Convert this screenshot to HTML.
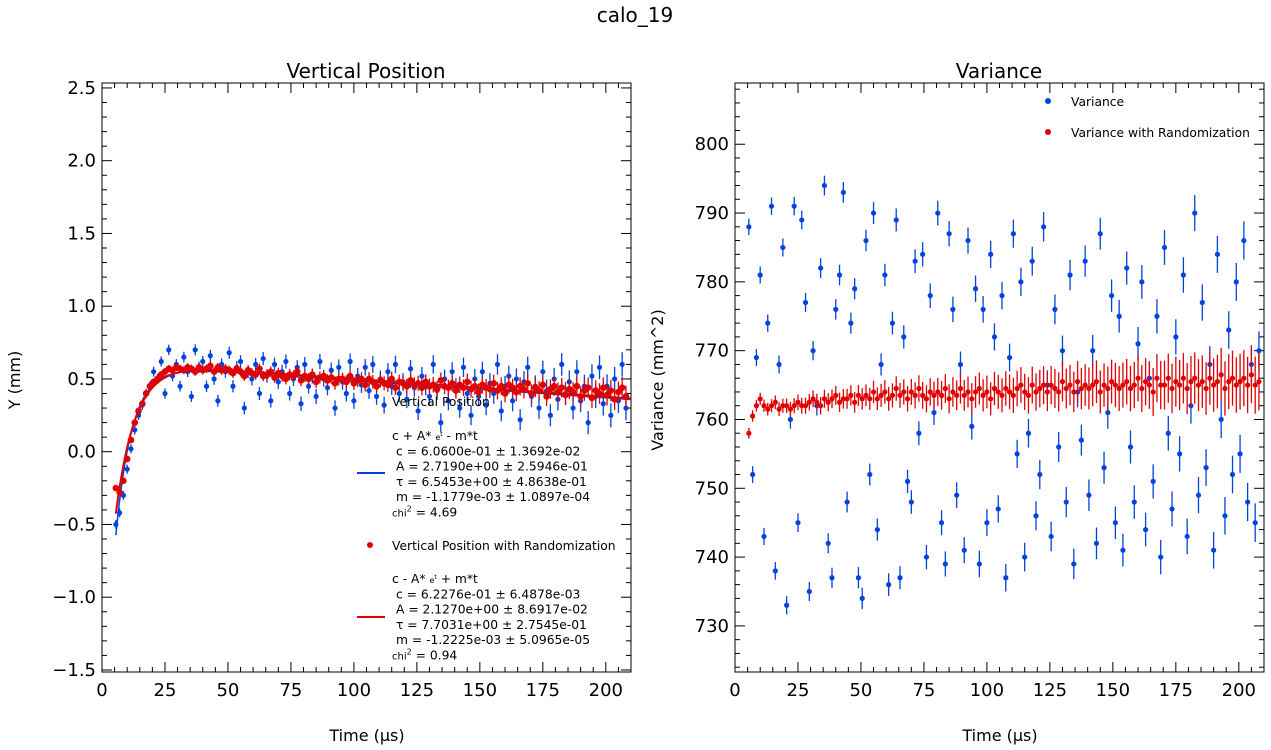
<!DOCTYPE html>
<html><head><meta charset="utf-8"><style>
body{margin:0;background:#fff;}
svg{display:block;font-family:"DejaVu Sans","Liberation Sans",sans-serif;}
</style></head><body>
<svg id="chart" width="1271" height="750" viewBox="0 0 1271 750">
<text x="635" y="22" font-size="20" text-anchor="middle">calo_19</text>
<g id="left"></g>
<g id="right"></g>
</svg>
<script>
const lbY=[-0.5,-0.42,-0.3,-0.12,0.02,0.15,0.25,0.32,0.4,0.45,0.55,0.5,0.62,0.4,0.7,0.52,0.6,0.45,0.65,0.55,0.38,0.7,0.58,0.62,0.45,0.66,0.5,0.35,0.6,0.55,0.68,0.45,0.58,0.62,0.3,0.55,0.5,0.6,0.4,0.64,0.52,0.35,0.6,0.48,0.55,0.62,0.4,0.5,0.58,0.33,0.6,0.45,0.52,0.38,0.62,0.5,0.44,0.56,0.3,0.58,0.48,0.4,0.62,0.35,0.52,0.46,0.58,0.42,0.6,0.38,0.5,0.32,0.55,0.45,0.6,0.4,0.48,0.36,0.57,0.44,0.28,0.52,0.45,0.38,0.6,0.42,0.2,0.5,0.35,0.55,0.44,0.3,0.58,0.4,0.25,0.5,0.38,0.55,0.32,0.47,0.4,0.6,0.28,0.45,0.52,0.35,0.5,0.22,0.48,0.58,0.38,0.45,0.3,0.55,0.42,0.25,0.5,0.36,0.6,0.4,0.48,0.3,0.55,0.35,0.45,0.2,0.52,0.38,0.58,0.33,0.45,0.25,0.5,0.35,0.6,0.3];
const lrY=[-0.25,-0.28,-0.2,-0.05,0.08,0.2,0.28,0.33,0.4,0.45,0.48,0.5,0.53,0.55,0.57,0.56,0.58,0.57,0.56,0.58,0.57,0.55,0.58,0.56,0.57,0.59,0.55,0.58,0.56,0.57,0.56,0.54,0.57,0.55,0.52,0.56,0.54,0.53,0.57,0.52,0.53,0.55,0.51,0.54,0.52,0.5,0.53,0.52,0.55,0.49,0.52,0.5,0.53,0.48,0.51,0.52,0.49,0.51,0.47,0.5,0.5,0.48,0.52,0.47,0.49,0.5,0.46,0.5,0.48,0.45,0.49,0.47,0.46,0.5,0.44,0.48,0.47,0.45,0.49,0.46,0.47,0.44,0.48,0.45,0.46,0.43,0.49,0.45,0.44,0.47,0.42,0.46,0.44,0.48,0.43,0.45,0.41,0.46,0.44,0.43,0.47,0.42,0.45,0.4,0.46,0.44,0.41,0.45,0.43,0.47,0.4,0.44,0.42,0.46,0.38,0.43,0.45,0.41,0.44,0.39,0.43,0.41,0.45,0.38,0.42,0.44,0.37,0.42,0.4,0.44,0.39,0.42,0.36,0.41,0.44,0.38];
const rbY=[788,752,769,781,743,774,791,738,768,785,733,760,791,745,789,777,735,770,762,782,794,742,737,776,781,793,748,774,779,737,734,786,752,790,744,768,781,736,774,789,737,772,751,748,783,758,784,740,778,761,790,745,739,787,776,749,768,741,786,759,779,739,776,745,784,772,747,778,737,769,787,755,780,740,758,783,746,752,788,765,743,776,756,770,748,781,739,764,757,783,749,770,742,787,753,761,778,745,775,741,782,756,748,771,780,744,766,751,775,740,785,758,747,772,755,781,743,762,790,749,777,753,768,741,784,760,746,773,752,780,755,786,748,768,745,770];
const rrY=[758,760.5,762,763,762,761.5,762,762.5,761.5,762,762,761.5,762,762.5,762,762,762.5,763,762.5,762,763,762.5,763,763.5,762.5,763,763,763.5,762.5,763.5,763,763.5,763,764,763,763.5,764,763,763.5,764.5,763.5,764,763,764,763.5,764.5,763.5,763,764,763.5,764,763.5,764.5,763,764,763.5,764.5,763.5,764,763,764,764.5,763.5,764,763,764.5,764,763.5,764.5,764,763.5,764.5,765,764,763.5,765,764,764.5,765,764,765,764.5,764,765.5,764.5,765,764,765.5,764.5,765,764.5,765,765.5,764,765,764.5,765.5,765,764.5,765,765.5,764.5,765,766,764.5,765.5,765,764,766,765,765,766,764.5,765.5,765,766,764.5,765.5,766,765,765.5,764.5,766,765,765.5,766.5,764.5,765.5,766,765,765.5,766,765,766.5,765,765.5];
const xStart=5.5, xStep=1.5;
const xTicks=[0,25,50,75,100,125,150,175,200];
const lyTicks=[-1.5,-1.0,-0.5,0.0,0.5,1.0,1.5,2.0,2.5];
const ryTicks=[730,740,750,760,770,780,790,800];
const fitBlue={c:0.606,A:2.719,tau:6.5453,m:-0.0011779};
const fitRed={c:0.62276,A:2.127,tau:7.7031,m:-0.0012225};

const NS="http://www.w3.org/2000/svg";
function mk(p,t,a){const e=document.createElementNS(NS,t);for(const k in a)e.setAttribute(k,a[k]);p.appendChild(e);return e;}
const BLUE="#0044dd",RED="#e00000";
function panel(g,X0,X1,Y0,Y1,xmin,xmax,ymin,ymax,yt,ymin_step,fmt){
  const sx=v=>X0+(v-xmin)/(xmax-xmin)*(X1-X0);
  const sy=v=>Y1-(v-ymin)/(ymax-ymin)*(Y1-Y0);
  const ax=mk(g,'rect',{x:X0,y:Y0,width:X1-X0,height:Y1-Y0,fill:'none',stroke:'#000','stroke-width':1});
  
  
  for(let v=0;v<=xmax;v+=5){const x=sx(v);const L=v%25===0?10:5;
    mk(g,'line',{x1:x,x2:x,y1:Y1,y2:Y1-L,stroke:'#000'});mk(g,'line',{x1:x,x2:x,y1:Y0,y2:Y0+L,stroke:'#000'});}
  xTicks.forEach(v=>{const t=mk(g,'text',{x:sx(v),y:Y1+24,'font-size':18,'text-anchor':'middle'});t.textContent=v;
    
    });
  const start=Math.ceil(ymin/ymin_step);
  for(let k=start;k*ymin_step<=ymax;k++){const v=k*ymin_step;const y=sy(v);const major=yt.some(t=>Math.abs(t-v)<1e-6);const L=major?10:5;
    mk(g,'line',{x1:X0,x2:X0+L,y1:y,y2:y,stroke:'#000'});mk(g,'line',{x1:X1,x2:X1-L,y1:y,y2:y,stroke:'#000'});}
  yt.forEach(v=>{const t=mk(g,'text',{x:X0-6,y:sy(v)+6,'font-size':18,'text-anchor':'end'});t.textContent=fmt(v);
    
    });
  return {sx,sy};
}
function series(g,s,ys,color,errFn,r,name){
  ys.forEach((v,i)=>{const x=xStart+i*xStep;const e=errFn(i);
    const l=mk(g,'line',{x1:s.sx(x),x2:s.sx(x),y1:s.sy(v-e),y2:s.sy(v+e),stroke:color,'stroke-width':1.3});
    
    
    const c=mk(g,'circle',{cx:s.sx(x),cy:s.sy(v),r:r,fill:color});
    
    });
}
function fitline(g,s,f,sign,color,name,w){
  let d='';for(let t=5.5;t<=210;t+=0.5){const v=f.c+sign*f.A*Math.exp(-t/f.tau)+f.m*t;d+=(d?'L':'M')+s.sx(t)+','+s.sy(v);}
  const p=mk(g,'path',{d:d,fill:'none',stroke:color,'stroke-width':w});
  
  
}
function txt(g,x,y,s,size,name,anchor){const t=mk(g,'text',{x:x,y:y,'font-size':size,'text-anchor':anchor||'start'});t.innerHTML=s;
  
  return t;}

// Left panel
const L=document.getElementById('left');
const sl=panel(L,102,631,83,672,0,210,-1.514,2.534,lyTicks,0.1,v=>v.toFixed(1).replace('-','\u2212'));
fitline(L,sl,fitBlue,-1,BLUE,'blue-fit-line',1.5);
series(L,sl,lbY,BLUE,i=>0.03+i*0.0004,2.6,'vertical-position');
series(L,sl,lrY,RED,i=>0.02+i*0.0004,3.3,'vertical-position-randomized');
fitline(L,sl,fitRed,-1,RED,'red-fit-line',2);
txt(L,366,78,'Vertical Position',20,'left-title','middle');
txt(L,367,741,'Time (\u03bcs)',16,'left-x-axis-title','middle');
const yl=txt(L,0,0,'Y (mm)',16,'left-y-axis-title','middle');yl.setAttribute('transform','translate(20,380) rotate(-90)');
const FS=12.3;
txt(L,392,406,'Vertical Position',FS,'legend-vertical-position');
mk(L,'line',{x1:357,x2:385,y1:473,y2:473,stroke:BLUE,'stroke-width':2});
const bl=['c + A* <tspan font-size="8">e<tspan dy="-4" font-size="6">t</tspan></tspan><tspan dy="4"> - m*t</tspan>','c = 6.0600e-01 \u00b1 1.3692e-02','A = 2.7190e+00 \u00b1 2.5946e-01','\u03c4 = 6.5453e+00 \u00b1 4.8638e-01','m = -1.1779e-03 \u00b1 1.0897e-04','<tspan font-size="10">chi</tspan><tspan dy="-5" font-size="8">2</tspan><tspan dy="5"> = 4.69</tspan>'];
bl.forEach((s,i)=>txt(L,(i>0&&i<5)?396:392,440+i*15.3,s,FS,'blue-fit-legend-line'));
mk(L,'circle',{cx:370,cy:545,r:3,fill:RED});
txt(L,392,550,'Vertical Position with Randomization',FS,'legend-vertical-position-randomized');
mk(L,'line',{x1:357,x2:385,y1:617,y2:617,stroke:RED,'stroke-width':2});
const rl=['c - A* <tspan font-size="8">e<tspan dy="-4" font-size="6">t</tspan></tspan><tspan dy="4"> + m*t</tspan>','c = 6.2276e-01 \u00b1 6.4878e-03','A = 2.1270e+00 \u00b1 8.6917e-02','\u03c4 = 7.7031e+00 \u00b1 2.7545e-01','m = -1.2225e-03 \u00b1 5.0965e-05','<tspan font-size="10">chi</tspan><tspan dy="-5" font-size="8">2</tspan><tspan dy="5"> = 0.94</tspan>'];
rl.forEach((s,i)=>txt(L,(i>0&&i<5)?396:392,583+i*15.3,s,FS,'red-fit-legend-line'));

// Right panel
const R=document.getElementById('right');
const sr=panel(R,735,1264,83,672,0,210,723.3,808.9,ryTicks,2,v=>v);
series(R,sr,rbY,BLUE,i=>1.2+i*0.012,2.6,'variance');
series(R,sr,rrY,RED,i=>0.8+i*0.025,2.6,'variance-randomized');
txt(R,999,78,'Variance',20,'right-title','middle');
txt(R,1000,741,'Time (\u03bcs)',16,'right-x-axis-title','middle');
const yr=txt(R,0,0,'Variance (mm^2)',16,'right-y-axis-title','middle');yr.setAttribute('transform','translate(663,380) rotate(-90)');
mk(R,'circle',{cx:1048,cy:101,r:3,fill:BLUE});
txt(R,1071,106,'Variance',FS,'legend-variance');
mk(R,'circle',{cx:1048,cy:132,r:3,fill:RED});
txt(R,1071,137,'Variance with Randomization',FS,'legend-variance-randomized');
</script>
</body></html>
